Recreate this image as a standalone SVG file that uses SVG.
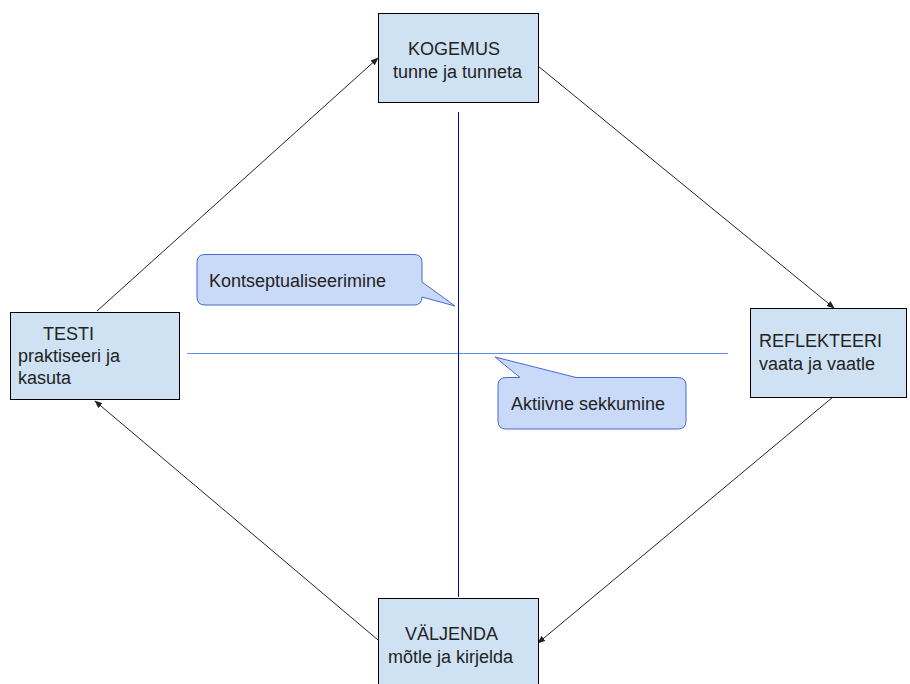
<svg xmlns="http://www.w3.org/2000/svg" width="910" height="684" viewBox="0 0 910 684">
<style>
.box{fill:#cfe2f3;stroke:#000;stroke-width:1}
.call{fill:#c9daf8;stroke:#4a67d6;stroke-width:1}
.t{font-family:"Liberation Sans",Arial,sans-serif;font-size:18px;fill:#222}
.con{stroke:#222;stroke-width:1;fill:none;marker-end:url(#ah)}
</style>
<defs>
<marker id="ah" viewBox="0 0 10 10" refX="9" refY="5" markerWidth="8" markerHeight="8" markerUnits="userSpaceOnUse" orient="auto">
<path d="M0,1 L10,5 L0,9 z" fill="#222"/>
</marker>
</defs>
<rect width="910" height="684" fill="#fff"/>
<g id="axes">
<line x1="187" y1="353.5" x2="728" y2="353.5" stroke="#5b8fe6" stroke-width="1"/>
<line x1="458.5" y1="112" x2="458.5" y2="597" stroke="#0000cc" stroke-width="1"/>
</g>
<g id="connectors">
<line class="con" x1="97" y1="311" x2="378" y2="58"/>
<line class="con" x1="538" y1="66" x2="834" y2="308"/>
<line class="con" x1="833" y1="397" x2="538" y2="643"/>
<line class="con" x1="378" y1="640" x2="95" y2="401"/>
</g>
<g id="kogemus">
<rect class="box" x="378.5" y="13.5" width="160" height="89"/>
<text class="t" x="408" y="55">KOGEMUS</text>
<text class="t" x="393" y="78">tunne ja tunneta</text>
</g>
<g id="testi">
<rect class="box" x="10.5" y="312.5" width="169" height="87"/>
<text class="t" x="43" y="340">TESTI</text>
<text class="t" x="18" y="362">praktiseeri ja</text>
<text class="t" x="18" y="384">kasuta</text>
</g>
<g id="reflekteeri">
<rect class="box" x="750.5" y="308.5" width="156" height="89"/>
<text class="t" x="759" y="347">REFLEKTEERI</text>
<text class="t" x="759" y="370">vaata ja vaatle</text>
</g>
<g id="valjenda">
<rect class="box" x="378.5" y="598.5" width="160" height="90"/>
<text class="t" x="405" y="640">VÄLJENDA</text>
<text class="t" x="388" y="663">mõtle ja kirjelda</text>
</g>
<g id="kontseptualiseerimine">
<path class="call" d="M205,254.5 H414 Q422,254.5 422,262.5 V282 L455,306 L422,297 V297 Q422,305 414,305 H205 Q197,305 197,297 V262.5 Q197,254.5 205,254.5 Z"/>
<text class="t" x="209" y="287">Kontseptualiseerimine</text>
</g>
<g id="aktiivne">
<path class="call" d="M506,377.5 H520 L495,357 L576,377.5 H678 Q686,377.5 686,385.5 V421 Q686,429 678,429 H506 Q498,429 498,421 V385.5 Q498,377.5 506,377.5 Z"/>
<text class="t" x="511" y="410">Aktiivne sekkumine</text>
</g>
</svg>
